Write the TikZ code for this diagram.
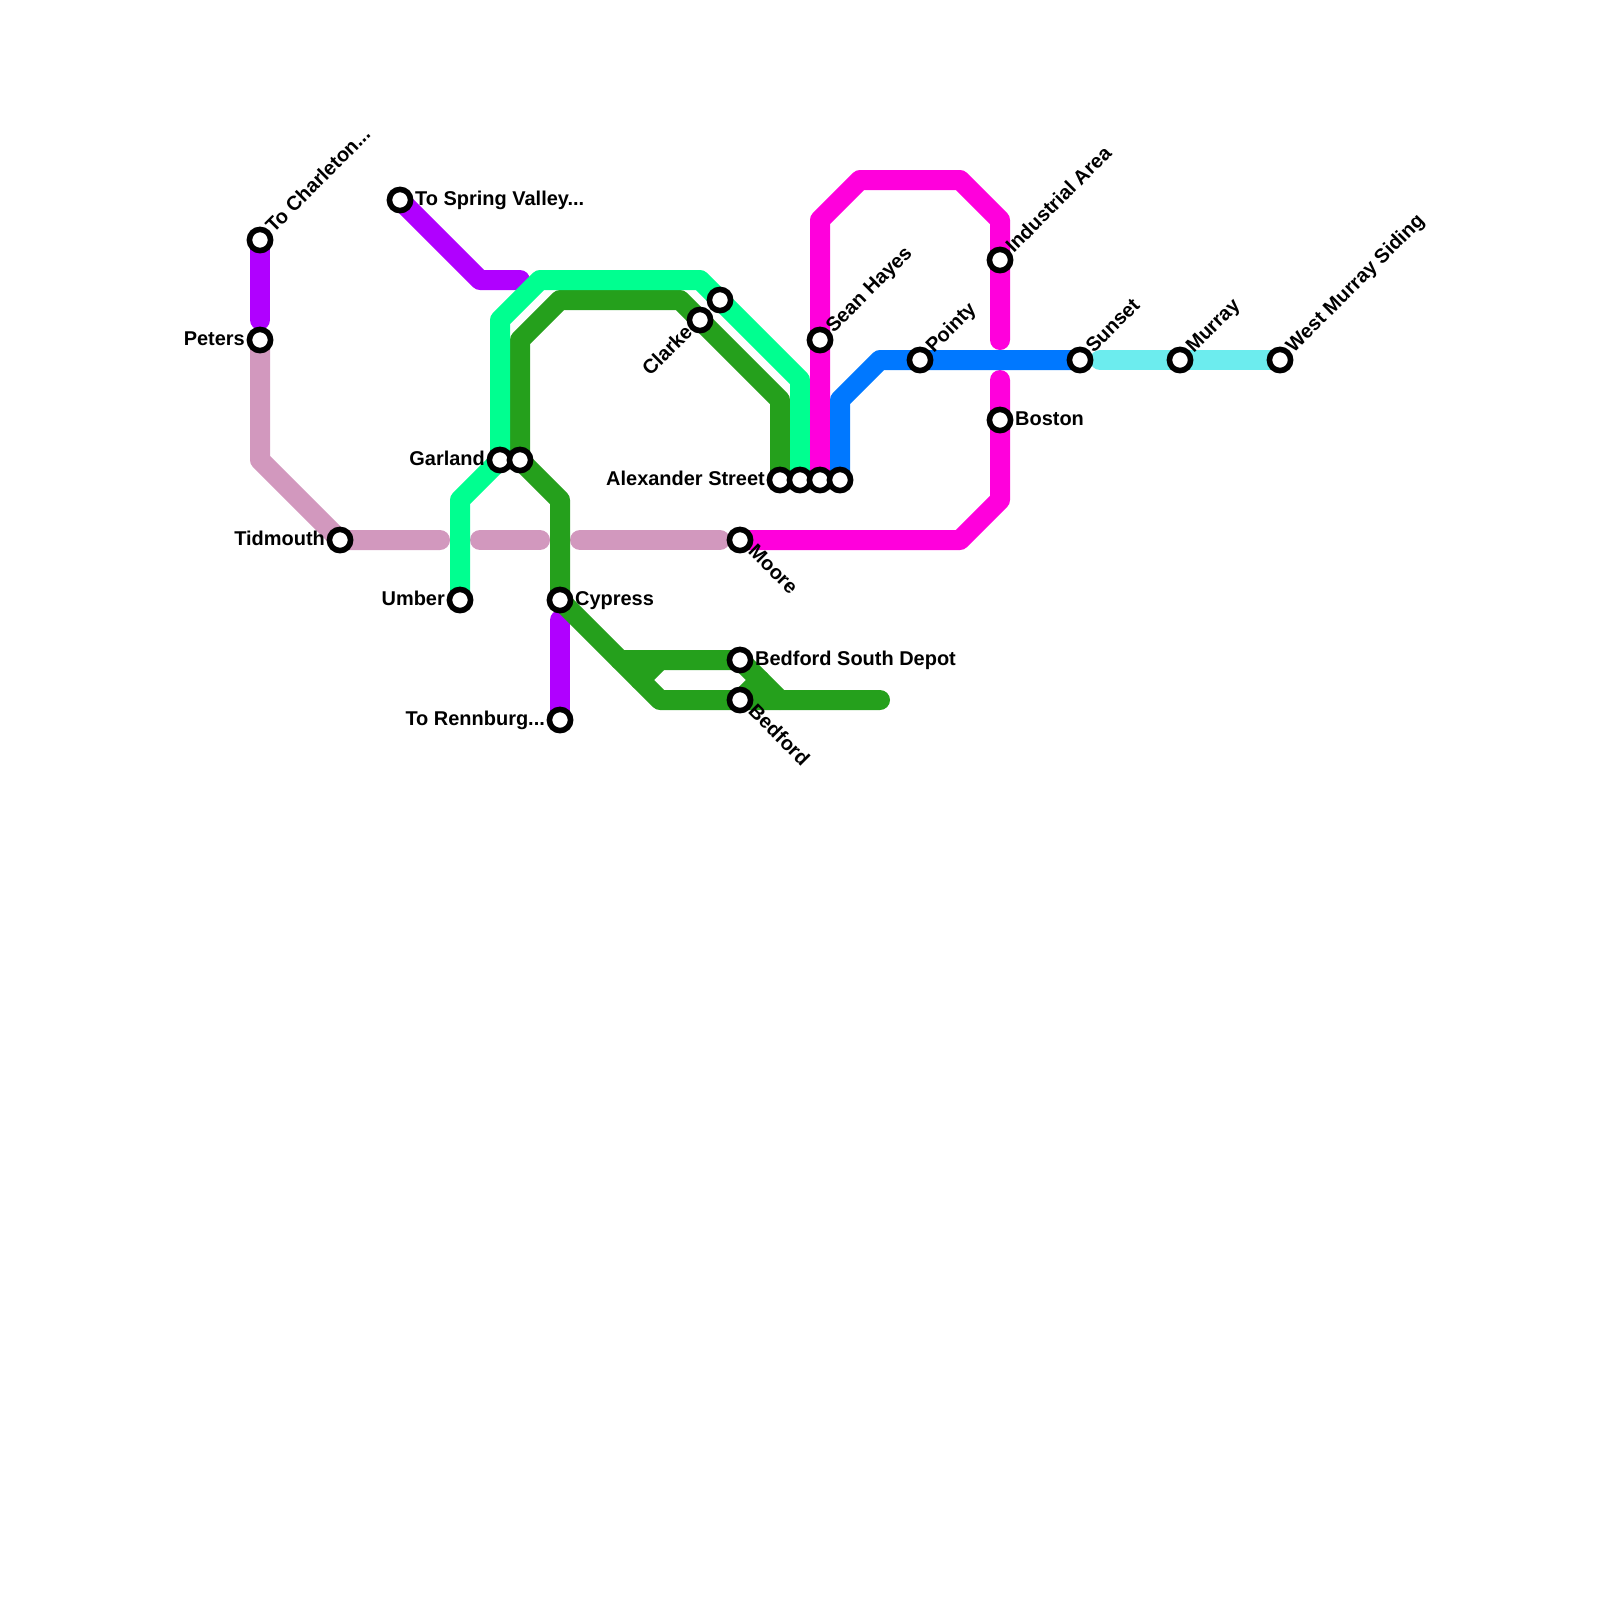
\documentclass[tikz,border=0pt]{standalone}
\usepackage{fontspec}
\setmainfont{Liberation Sans}
\usepackage{xcolor}
\usetikzlibrary{calc}
\definecolor{lpurple}{HTML}{B000FF}
\definecolor{lmauve}{HTML}{D298BE}
\definecolor{lmint}{HTML}{00FF90}
\definecolor{lgreen}{HTML}{25A01C}
\definecolor{lmagenta}{HTML}{FF00DC}
\definecolor{lblue}{HTML}{0078FF}
\definecolor{lcyan}{HTML}{6CECEE}
\tikzset{
  route/.style={line width=1cm, line cap=round, line join=round},
  stop/.style={circle, draw=black, fill=white, line width=0.28cm, minimum size=1.06cm, inner sep=0pt},
  stoplabel/.style={font=\fontsize{28.4}{34}\selectfont\bfseries, inner sep=0pt, text=black, text height=0.72cm, text depth=0.2cm}
}
\newcommand{\tdots}{...}
\begin{document}
\begin{tikzpicture}[x=1cm, y=-1cm]
\useasboundingbox (0,0) rectangle (80,80);
% stop positions
\foreach \name/\x/\y in {charleton/13/12, peters/13/17, tidmouth/17/27, spring/20/10,
  garland/25/23, garlandb/26/23, umber/23/30, cypress/28/30, rennburg/28/36,
  depot/37/33, bedford/37/35, clarke/35/16, clarkeb/36/15,
  alex/39/24, alexb/40/24, alexc/41/24, alexd/42/24, hayes/41/17, moore/37/27,
  pointy/46/18, industrial/50/13, boston/50/21, sunset/54/18, murray/59/18, siding/64/18}{
  \coordinate (\name) at (\x,\y);}
% purple
\draw[route,lpurple] (charleton) -- (13,16);
\draw[route,lpurple] (spring) -- (24,14) -- (26,14);
\draw[route,lpurple] (cypress) ++(0,1) -- (rennburg);
% mauve, broken in three places
\draw[route,lmauve] (peters) -- (13,23) -- (tidmouth) -- (22,27);
\draw[route,lmauve] (24,27) -- (27,27);
\draw[route,lmauve] (29,27) -- (36,27);
% green
\draw[route,lgreen] (garlandb) -- (26,17) -- (28,15) -- (34,15) -- (39,20) -- (alex);
\draw[route,lgreen] (garlandb) -- (28,25) -- (cypress) -- (33,35) -- (44,35);
\draw[route,lgreen] (31,33) -- (depot) -- (39,35);
\draw[route,lgreen] (32,34) -- (33,33);
\draw[route,lgreen] (bedford) -- (38,34);
% mint
\draw[route,lmint] (umber) -- (23,25) -- (garland) -- (25,16) -- (27,14) -- (35,14) -- (40,19) -- (alexb);
% magenta
\draw[route,lmagenta] (alexc) -- (41,11) -- (43,9) -- (48,9) -- (50,11) -- (50,17);
\draw[route,lmagenta] (50,19) -- (50,25) -- (48,27) -- (moore);
% blue and cyan
\draw[route,lblue] (alexd) -- (42,20) -- (44,18) -- (sunset);
\draw[route,lcyan] (55,18) -- (siding);
% stops
\foreach \name in {charleton, peters, tidmouth, spring, garland, garlandb, umber, cypress, rennburg,
  depot, bedford, clarke, clarkeb, alex, alexb, alexc, alexd, hayes, moore,
  pointy, industrial, boston, sunset, murray, siding}{
  \node[stop] (\name-stop) at (\name) {};}
% labels to the right
\foreach \name/\txt in {spring/To Spring Valley\tdots, cypress/Cypress, depot/Bedford South Depot, boston/Boston}{
  \node[stoplabel, anchor=west] (\name-text) at ($(\name)+(0.75,0)$) {\txt};}
% labels to the left
\foreach \name/\txt in {peters/Peters, tidmouth/Tidmouth, garland/Garland, umber/Umber, rennburg/To Rennburg\tdots, alex/Alexander Street}{
  \node[stoplabel, anchor=east] (\name-text) at ($(\name)+(-0.75,0)$) {\txt};}
% slanted labels
\foreach \name/\txt in {charleton/To Charleton\tdots, hayes/Sean Hayes, pointy/Pointy, industrial/Industrial Area, sunset/Sunset, murray/Murray, siding/West Murray Siding}{
  \node[stoplabel, anchor=west, rotate=45] (\name-text) at ($(\name)+(0.5,-0.5)$) {\txt};}
\foreach \name/\txt in {moore/Moore, bedford/Bedford}{
  \node[stoplabel, anchor=west, rotate=-45] (\name-text) at ($(\name)+(0.55,0.45)$) {\txt};}
\node[stoplabel, anchor=east, rotate=45] (clarke-text) at ($(clarke)+(-0.5,0.5)$) {Clarke};
\end{tikzpicture}
\end{document}
